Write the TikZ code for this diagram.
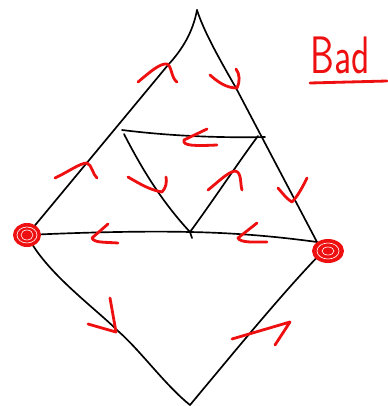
\documentclass[tikz,border=0pt]{standalone}
\usetikzlibrary{positioning}
\definecolor{inkred}{RGB}{238,16,16}
\begin{document}
\begin{tikzpicture}[x=0.02cm, y=-0.02cm,
    edge/.style={line width=0.95pt, line cap=round, line join=round},
    tick/.style={inkred, line width=1.6pt, line cap=round, line join=round},
    gap/.style={white, line width=0.35pt}
  ]
  \useasboundingbox (0,0) rectangle (388,406);
  \coordinate (top) at (197,10);
  \coordinate (lk) at (168,65);
  \coordinate (rk) at (236,88);
  \coordinate (L) at (27,235);
  \coordinate (R) at (325,249);
  \coordinate (Rend) at (317,242);
  \coordinate (A) at (122,130);
  \coordinate (Ad) at (124,134);
  \coordinate (B) at (265,137);
  \coordinate (Bd) at (258,136);
  \coordinate (M) at (190,232);
  \coordinate (Mt) at (192,238);
  \coordinate (lm) at (118,331);
  \coordinate (bot) at (190,405);

  \draw[edge] (top) .. controls (193,32) and (182,50) .. (lk) -- (L);
  \draw[edge] (top) .. controls (204,32) and (220,60) .. (rk) -- (Rend);
  \draw[edge] (A) .. controls (170,136) and (220,138) .. (B);
  \draw[edge] (Ad) .. controls (145,175) and (165,205) .. (M);
  \draw[edge] (Bd) .. controls (240,160) and (210,205) .. (M);
  \draw[edge] (M) -- (Mt);
  \draw[edge] (L) .. controls (90,232) and (150,231) .. (M)
    .. controls (240,233) and (280,237) .. (Rend);
  \draw[edge] (L) .. controls (45,272) and (95,308) .. (lm)
    .. controls (140,350) and (165,385) .. (bot);
  \draw[edge] (R) .. controls (285,290) and (240,345) .. (bot);

  \draw[tick] (138,82) .. controls (150,72) and (160,63) .. (167,64)
    .. controls (172,66) and (171,78) .. (177,82);
  \draw[tick] (210,75) .. controls (218,82) and (226,88) .. (237,88)
    .. controls (240,82) and (240,74) .. (236,69);
  \draw[tick] (207,129) -- (184,140) .. controls (182,146) and (195,146) .. (217,145);
  \draw[tick] (55,178) .. controls (68,172) and (80,163) .. (87,163)
    .. controls (92,165) and (93,175) .. (97,178);
  \draw[tick] (128,177) .. controls (140,184) and (150,190) .. (162,192)
    .. controls (166,188) and (167,182) .. (166,177);
  \draw[tick] (208,190) .. controls (218,182) and (228,172) .. (235,171)
    .. controls (242,172) and (240,184) .. (242,190);
  \draw[tick] (278,188) .. controls (283,194) and (288,200) .. (292,202)
    .. controls (298,196) and (303,186) .. (307,178);
  \draw[tick] (108,224) -- (92,238) .. controls (94,243) and (105,242) .. (118,243);
  \draw[tick] (257,223) -- (238,238) .. controls (240,243) and (255,242) .. (267,242);
  \draw[tick] (88,324) -- (116,332) -- (110,298);
  \draw[tick] (232,339) -- (290,322) -- (275,345);

  \fill[inkred] (L) ellipse [x radius=14, y radius=12];
  \draw[gap] (L) ellipse [x radius=10, y radius=8];
  \draw[gap] (L) ellipse [x radius=6, y radius=5];
  \fill[inkred] (328,251) ellipse [x radius=16, y radius=12];
  \draw[gap] (328,251) ellipse [x radius=11, y radius=8];
  \draw[gap] (328,251) ellipse [x radius=6, y radius=4];

  \node[inkred, font=\sffamily\fontsize{30}{30}\selectfont, xscale=0.72,
    inner sep=0pt] (bad) at (340,55) {Bad};
  \coordinate (ul1) at (310,83);
  \coordinate (ul2) at (387,81);
  \draw[tick] (ul1) -- (ul2);
\end{tikzpicture}
\end{document}
